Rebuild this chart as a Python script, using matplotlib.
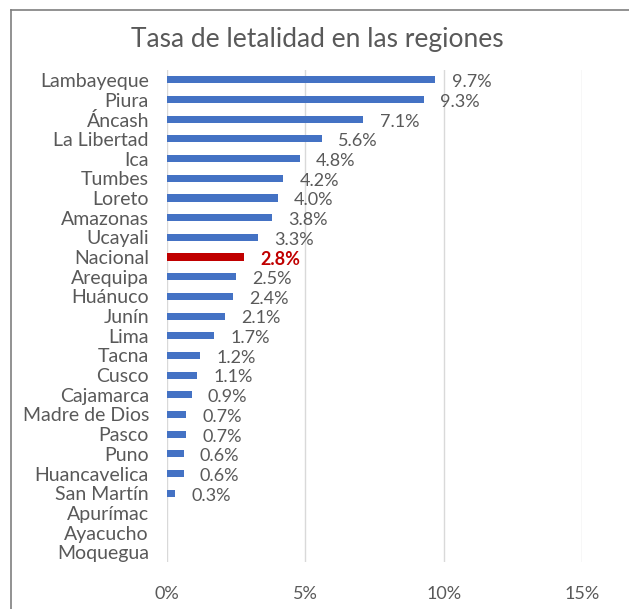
import matplotlib.pyplot as plt
from matplotlib.lines import Line2D

plt.rcParams['font.family'] = ['Lato', 'DejaVu Sans']

regiones = ["Lambayeque", "Piura", "Áncash", "La Libertad", "Ica", "Tumbes",
            "Loreto", "Amazonas", "Ucayali", "Nacional", "Arequipa", "Huánuco",
            "Junín", "Lima", "Tacna", "Cusco", "Cajamarca", "Madre de Dios",
            "Pasco", "Puno", "Huancavelica", "San Martín", "Apurímac",
            "Ayacucho", "Moquegua"]
tasas = [9.7, 9.3, 7.1, 5.6, 4.8, 4.2, 4.0, 3.8, 3.3, 2.8, 2.5, 2.4, 2.1,
         1.7, 1.2, 1.1, 0.9, 0.7, 0.7, 0.6, 0.6, 0.3, 0.0, 0.0, 0.0]
ticks = [0, 5, 10, 15]

gris = "#595959"
fig = plt.figure(figsize=(6.29, 6.09), dpi=100)
ax = fig.add_axes([0.2655, 0.077, 0.66, 0.808])

pos = list(range(len(regiones)))
colores = ["#C00000" if r == "Nacional" else "#4472C4" for r in regiones]
ax.barh(pos, tasas, height=0.36, color=colores, zorder=3)

for p, r, v in zip(pos, regiones, tasas):
    if v <= 0:
        continue
    if r == "Nacional":
        ax.text(v + 0.58, p + 0.12, f"{v:.1f}%", va="center", ha="left",
                fontsize=13, color="#C00000", fontweight="bold")
    else:
        ax.text(v + 0.58, p + 0.12, f"{v:.1f}%", va="center", ha="left",
                fontsize=13, color=gris)

ax.set_ylim(len(regiones) - 0.5, -0.5)
ax.set_xlim(0, 15)
ax.set_yticks(pos)
ax.set_yticklabels(regiones, fontsize=14, color=gris)
ax.set_xticks(ticks)
ax.set_xticklabels([f"{t}%" for t in ticks], fontsize=13, color=gris)
ax.tick_params(axis="both", length=0)
ax.tick_params(axis="y", pad=13)
ax.tick_params(axis="x", pad=17)
ax.grid(axis="x", color="#D9D9D9", linewidth=1, zorder=0)
for s in ax.spines.values():
    s.set_visible(False)

fig.text(0.505, 0.935, "Tasa de letalidad en las regiones", ha="center",
         va="center", fontsize=19, color=gris)

# borde del área del gráfico
fig.add_artist(Line2D([0.018, 0.018], [0, 0.983], color="#7F7F7F", lw=1.2))
fig.add_artist(Line2D([0.018, 1], [0.983, 0.983], color="#7F7F7F", lw=1.2))

fig.savefig("out.png", dpi=100)
